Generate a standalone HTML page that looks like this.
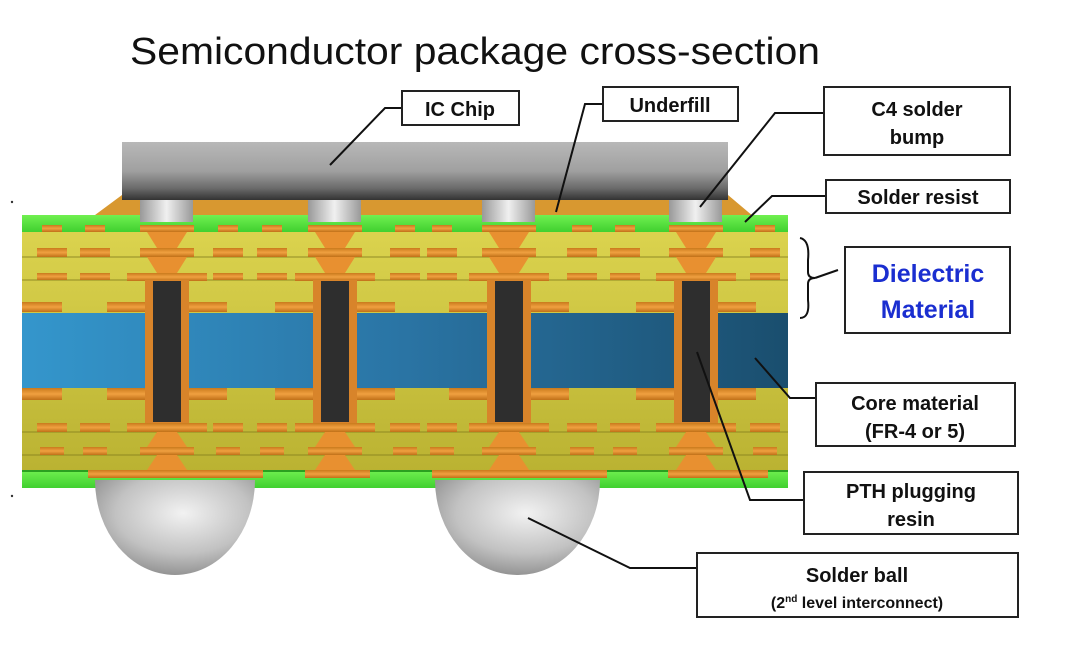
<!DOCTYPE html>
<html><head><meta charset="utf-8"><style>
html,body{margin:0;padding:0;background:#fff;}
svg{display:block;}
text{font-family:"Liberation Sans",sans-serif;}
</style></head><body>
<svg width="1080" height="645" viewBox="0 0 1080 645" xmlns="http://www.w3.org/2000/svg">
<defs>
<linearGradient id="chip" x1="0" y1="0" x2="0" y2="1"><stop offset="0" stop-color="#b8b8b8"/><stop offset="0.5" stop-color="#a0a0a0"/><stop offset="0.8" stop-color="#6a6a6a"/><stop offset="1" stop-color="#333"/></linearGradient>
<linearGradient id="bump" x1="0" y1="0" x2="1" y2="0"><stop offset="0" stop-color="#999"/><stop offset="0.5" stop-color="#f0f0f0"/><stop offset="1" stop-color="#999"/></linearGradient>
<radialGradient id="ball" cx="0.55" cy="0.35" r="0.7"><stop offset="0" stop-color="#f2f2f2"/><stop offset="0.6" stop-color="#c2c2c2"/><stop offset="1" stop-color="#8a8a8a"/></radialGradient>
<linearGradient id="yel" x1="0" y1="0" x2="0" y2="1"><stop offset="0" stop-color="#ddd550"/><stop offset="1" stop-color="#b8b030"/></linearGradient>
<linearGradient id="core" x1="0" y1="0" x2="1" y2="0"><stop offset="0" stop-color="#3496cc"/><stop offset="0.5" stop-color="#2a74a4"/><stop offset="1" stop-color="#1a4e6e"/></linearGradient>
<linearGradient id="cu" x1="0" y1="0" x2="0" y2="1"><stop offset="0" stop-color="#c97a1c"/><stop offset="0.5" stop-color="#f0a040"/><stop offset="1" stop-color="#c07018"/></linearGradient>
<linearGradient id="grn" x1="0" y1="0" x2="0" y2="1"><stop offset="0" stop-color="#70f050"/><stop offset="1" stop-color="#40d030"/></linearGradient>
<g id="via">
 <rect x="-60" y="302" width="120" height="10" fill="url(#cu)"/>
 <rect x="-60" y="388" width="120" height="12" fill="url(#cu)"/>
 <rect x="-10" y="225" width="20" height="55" fill="#e89030"/>
 <rect x="-27" y="225" width="54" height="7" fill="url(#cu)"/>
 <polygon points="-20,232 20,232 10,248 -10,248" fill="#e89030"/>
 <rect x="-27" y="248" width="54" height="9" fill="url(#cu)"/>
 <polygon points="-20,257 20,257 10,273 -10,273" fill="#e89030"/>
 <rect x="-40" y="273" width="80" height="8" fill="url(#cu)"/>
 <rect x="-22" y="280" width="44" height="145" fill="#d8842a"/>
 <rect x="-14" y="281" width="28" height="141" fill="#2e2e2e"/>
 <rect x="-40" y="423" width="80" height="9" fill="url(#cu)"/>
 <polygon points="-10,432 10,432 20,447 -20,447" fill="#e89030"/>
 <rect x="-27" y="447" width="54" height="8" fill="url(#cu)"/>
 <polygon points="-10,455 10,455 20,470 -20,470" fill="#e89030"/>
</g>
<g id="pads">
 <rect x="-10" y="225" width="20" height="7" fill="url(#cu)"/>
 <rect x="-15" y="248" width="30" height="9" fill="url(#cu)"/>
 <rect x="-15" y="273" width="30" height="7" fill="url(#cu)"/>
 <rect x="-15" y="423" width="30" height="9" fill="url(#cu)"/>
 <rect x="-12" y="447" width="24" height="8" fill="url(#cu)"/>
</g>
</defs>

<text x="130" y="64" font-size="38" fill="#111" textLength="690" lengthAdjust="spacingAndGlyphs">Semiconductor package cross-section</text>

<polygon points="95,215 122,195 728,195 760,222 95,222" fill="#d89830"/>
<rect x="22" y="215" width="766" height="273" fill="url(#yel)"/>
<g stroke="#8a8420" stroke-width="1.5" opacity="0.6">
<line x1="22" y1="257" x2="788" y2="257"/><line x1="22" y1="280" x2="788" y2="280"/>
<line x1="22" y1="432" x2="788" y2="432"/><line x1="22" y1="455" x2="788" y2="455"/>
</g>
<rect x="22" y="313" width="766" height="75" fill="url(#core)"/>
<rect x="22" y="215" width="766" height="17" fill="url(#grn)"/>
<rect x="22" y="470" width="766" height="18" fill="url(#grn)"/>
<rect x="22" y="470" width="766" height="2" fill="#2aa020"/>

<use href="#pads" x="52"/><use href="#pads" x="95"/>
<use href="#pads" x="228"/><use href="#pads" x="272"/>
<use href="#pads" x="405"/><use href="#pads" x="442"/>
<use href="#pads" x="582"/><use href="#pads" x="625"/>
<use href="#pads" x="765"/>
<rect x="22" y="302" width="40" height="10" fill="url(#cu)"/>
<rect x="22" y="388" width="40" height="12" fill="url(#cu)"/>

<use href="#via" x="167"/><use href="#via" x="335"/><use href="#via" x="509"/><use href="#via" x="696"/>

<rect x="88" y="470" width="175" height="8" fill="url(#cu)"/>
<rect x="305" y="470" width="65" height="8" fill="url(#cu)"/>
<rect x="432" y="470" width="175" height="8" fill="url(#cu)"/>
<rect x="668" y="470" width="100" height="8" fill="url(#cu)"/>

<rect x="122" y="142" width="606" height="58" fill="url(#chip)"/>
<rect x="140" y="200" width="53" height="22" fill="url(#bump)"/>
<rect x="308" y="200" width="53" height="22" fill="url(#bump)"/>
<rect x="482" y="200" width="53" height="22" fill="url(#bump)"/>
<rect x="669" y="200" width="53" height="22" fill="url(#bump)"/>

<path d="M95,480 L255,480 A80,95 0 0 1 175,575 A80,95 0 0 1 95,480 Z" fill="url(#ball)"/>
<path d="M435,480 L600,480 A82,95 0 0 1 517,575 A82,95 0 0 1 435,480 Z" fill="url(#ball)"/>

<g fill="none" stroke="#111" stroke-width="2">
<polyline points="402,108 385,108 330,165"/>
<polyline points="603,104 585,104 556,212"/>
<polyline points="824,113 775,113 700,207"/>
<polyline points="826,196 772,196 745,222"/>
<path d="M800,238 Q810,240 808,260 L808,272 Q808,278 815,278 Q808,278 808,284 L808,300 Q810,318 800,318"/>
<polyline points="815,278 838,270"/>
<polyline points="816,398 790,398 755,358"/>
<polyline points="804,500 750,500 697,352"/>
<polyline points="697,568 630,568 528,518"/>
</g>

<g fill="#fff" stroke="#222" stroke-width="2">
<rect x="402" y="91" width="117" height="34"/>
<rect x="603" y="87" width="135" height="34"/>
<rect x="824" y="87" width="186" height="68"/>
<rect x="826" y="180" width="184" height="33"/>
<rect x="845" y="247" width="165" height="86"/>
<rect x="816" y="383" width="199" height="63"/>
<rect x="804" y="472" width="214" height="62"/>
<rect x="697" y="553" width="321" height="64"/>
</g>
<g font-size="20" fill="#111" text-anchor="middle" font-weight="bold">
<text x="460" y="116">IC Chip</text>
<text x="670" y="112">Underfill</text>
<text x="917" y="116">C4 solder</text>
<text x="917" y="144">bump</text>
<text x="918" y="204">Solder resist</text>
<text x="915" y="410">Core material</text>
<text x="915" y="438">(FR-4 or 5)</text>
<text x="911" y="498">PTH plugging</text>
<text x="911" y="526">resin</text>
<text x="857" y="582">Solder ball</text>
<text x="857" y="608" font-size="16">(2<tspan font-size="10" dy="-6">nd</tspan><tspan dy="6"> level interconnect)</tspan></text>
</g>
<g font-size="25" fill="#1a2ed0" text-anchor="middle" font-weight="bold">
<text x="928" y="282">Dielectric</text>
<text x="928" y="318">Material</text>
</g>
<circle cx="12" cy="202" r="1.2" fill="#333"/>
<circle cx="12" cy="496" r="1.2" fill="#333"/>
</svg>
</body></html>
